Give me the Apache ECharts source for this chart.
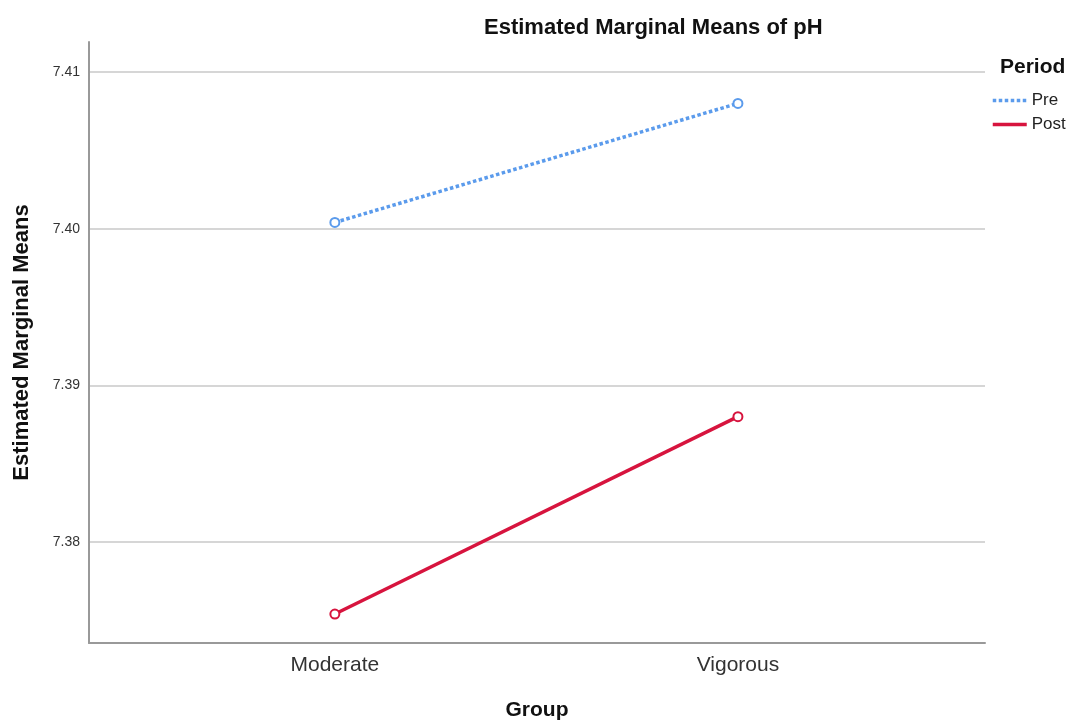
<!DOCTYPE html>
<html>
<head>
<meta charset="utf-8">
<script src="https://cdn.jsdelivr.net/npm/echarts@6/dist/echarts.min.js"></script>
<style>html,body{margin:0;padding:0;background:#fff}#c{width:1071px;height:722px}</style>
</head>
<body>
<div id="c"></div>
<script>
const categories = ['Moderate', 'Vigorous'];
const seriesNames = ['Pre', 'Post'];
const preValues = [7.4004, 7.4080];
const postValues = [7.3754, 7.3880];
const yTicks = [7.38, 7.39, 7.40, 7.41];

const chart = echarts.init(document.getElementById('c'));
const FONT = 'Arial, "Liberation Sans", sans-serif';
const toPts = vals => vals.map((v, i) => [i, v]);
const BLUE = '#5B9BEC';
const RED = '#D7143E';

chart.setOption({
  animation: false,
  textStyle: { fontFamily: FONT },
  title: [
    { text: 'Estimated Marginal Means of pH', left: 479, top: 12,
      textStyle: { fontFamily: FONT, fontSize: 22, fontWeight: 'bold', color: '#111' } },
    { text: 'Period', left: 995, top: 52,
      textStyle: { fontFamily: FONT, fontSize: 21, fontWeight: 'bold', color: '#111' } }
  ],
  legend: {
    orient: 'vertical', left: 986, top: 87, itemGap: 7,
    itemWidth: 34, itemHeight: 16,
    itemStyle: { opacity: 0 },
    lineStyle: { width: 3.5 },
    textStyle: { fontFamily: FONT, fontSize: 17, color: '#222' },
    data: seriesNames
  },
  grid: { left: 89, right: 86, top: 42, bottom: 79, outerBoundsMode: 'none', containLabel: false },
  xAxis: {
    type: 'value', min: -0.61, max: 1.613,
    name: 'Group', nameLocation: 'middle', nameGap: 57,
    nameTextStyle: { fontFamily: FONT, fontSize: 21, fontWeight: 'bold', color: '#111' },
    axisLine: { show: true, onZero: false, lineStyle: { color: '#999', width: 2 } },
    axisTick: { show: false },
    splitLine: { show: false },
    axisLabel: {
      customValues: [0, 1], margin: 12,
      formatter: v => categories[Math.round(v)] || '',
      fontFamily: FONT, fontSize: 21, color: '#333'
    }
  },
  yAxis: {
    type: 'value', min: 7.37355, max: 7.41192,
    name: 'Estimated Marginal Means', nameLocation: 'middle', nameGap: 56, nameRotate: 90,
    nameTextStyle: { fontFamily: FONT, fontSize: 22, fontWeight: 'bold', color: '#111' },
    axisLine: { show: true, onZero: false, lineStyle: { color: '#999', width: 2 } },
    axisTick: { show: false, customValues: yTicks },
    axisLabel: { customValues: yTicks, formatter: v => v.toFixed(2), margin: 9,
      fontFamily: FONT, fontSize: 14, color: '#333' },
    splitLine: { show: true, lineStyle: { color: '#c8c8c8', width: 1.5 } }
  },
  series: [
    { name: 'Pre', type: 'line', data: toPts(preValues),
      symbol: 'emptyCircle', symbolSize: 9, color: BLUE,
      lineStyle: { width: 3.5, type: [3.5, 2.5], color: BLUE },
      itemStyle: { color: BLUE, borderWidth: 1.5 } },
    { name: 'Post', type: 'line', data: toPts(postValues),
      symbol: 'emptyCircle', symbolSize: 9, color: RED,
      lineStyle: { width: 3.5, color: RED },
      itemStyle: { color: RED, borderWidth: 1.5 } }
  ]
});
</script>
</body>
</html>
